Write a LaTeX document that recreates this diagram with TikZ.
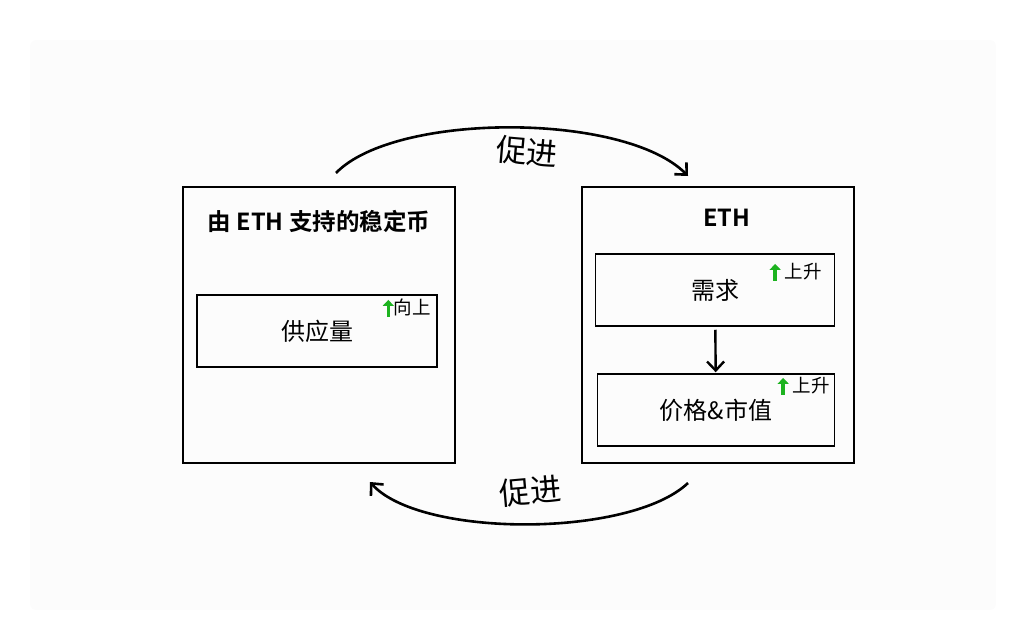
\documentclass[tikz,border=0pt]{standalone}
\usepackage{fontspec}
\setmainfont{Noto Sans CJK SC}[BoldFont={Noto Sans CJK SC Bold}]
\usetikzlibrary{arrows.meta,positioning}
\definecolor{upgreen}{HTML}{1DB320}
\tikzset{
	outerbox/.style={draw, line width=2.2pt, minimum width=272pt, minimum height=276pt},
	innerbox/.style={draw, line width=1.5pt, minimum width=240pt, minimum height=72pt, font=\fontsize{24}{28}\selectfont},
	title/.style={font=\bfseries\fontsize{23.5}{28}\selectfont},
	tag/.style={font=\fontsize{18.5}{22}\selectfont, inner sep=1pt},
	push/.style={font=\fontsize{31}{36}\selectfont}
}
\newcommand{\upmark}{\tikz[baseline=-6pt]\draw[upgreen, line width=3.4pt, -{Triangle[length=6pt,width=11pt]}] (0,-8pt) -- (0,9pt);}
\begin{document}
\begin{tikzpicture}[x=1pt, y=-1pt, >={Straight Barb[length=9pt,width=17pt]}]
	\useasboundingbox (0,0) rectangle (1024,642);
	\fill[black!1, rounded corners=6pt] (30,40) rectangle (996,610);

	% left side
	\node (stable) [outerbox] at (319,325) {};
	\node (stabletitle) [title] at (319,221) {由 ETH 支持的稳定币};
	\node (supply) [innerbox] at (317,331) {供应量};
	\node (supplyup) [tag, anchor=north east] at (432,297) {\upmark{}向上};

	% right side
	\node (eth) [outerbox] at (718,325) {};
	\node (ethtitle) [title] at (727,218) {ETH};
	\node (demand) [innerbox, minimum width=239pt] at (715,290) {需求};
	\node (demandup) [tag, anchor=north east] at (823,261) {\upmark{} 上升};
	\node (price) [innerbox, minimum width=237pt] at (716,410) {价格\&市值};
	\node (priceup) [tag, anchor=north east] at (831,375) {\upmark{} 上升};

	\draw[->, line width=2.4pt, shorten <=3pt, shorten >=1pt] (demand) -- (price);

	% the loop between the two
	\coordinate (topL) at (336,173);
	\coordinate (topR) at (688,176);
	\coordinate (botR) at (688,483);
	\coordinate (botL) at (370,482);
	\draw[->, line width=2.6pt] (topL) .. controls (395,112) and (625,112) .. (topR);
	\draw[->, line width=2.6pt] (botR) .. controls (630,538) and (420,538) .. (botL);
	\node (pushtop) [push, rotate=-5] at (527,152) {促进};
	\node (pushbot) [push, rotate=5] at (530,491) {促进};
\end{tikzpicture}
\end{document}
